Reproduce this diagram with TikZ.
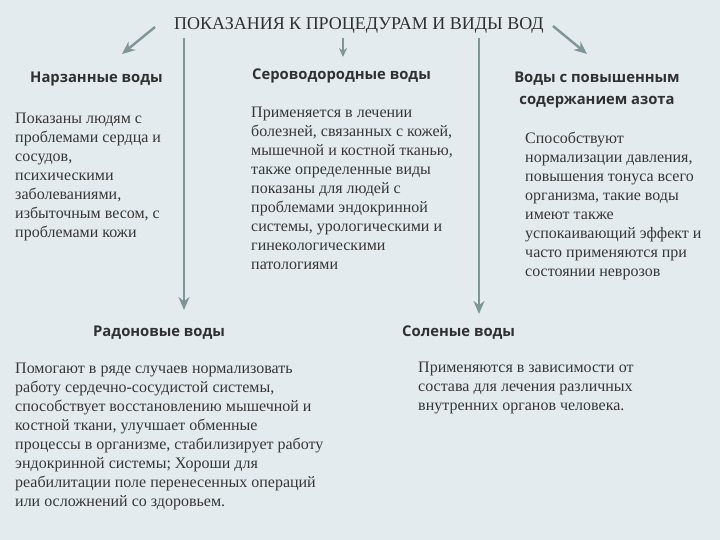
\documentclass[tikz,border=0pt]{standalone}
\usepackage{fontspec}
\setmainfont{Liberation Serif}
\newfontfamily\headfont{Open Sans}
\usetikzlibrary{arrows.meta}
\definecolor{bgcol}{HTML}{E4EBEF}
\definecolor{arrcol}{HTML}{7F9598}
\definecolor{txtcol}{HTML}{363636}
\definecolor{headcol}{HTML}{303030}
\begin{document}
\begin{tikzpicture}[x=1pt, y=-1pt, line join=round, >={Stealth[length=13pt,width=11pt]},
  title/.style={anchor=base, inner sep=0pt, text=headcol, font=\fontsize{18}{20}\selectfont},
  head/.style={anchor=base west, inner sep=0pt, text=headcol, font=\headfont\bfseries\fontsize{14.8}{22}\selectfont},
  body/.style={anchor=north west, inner sep=0pt, align=left, text=txtcol, font=\fontsize{16}{19}\selectfont},
  arr/.style={->, draw=arrcol, line width=2.4pt}]
\fill[bgcol] (0,0) rectangle (720,540);
\useasboundingbox (0,0) rectangle (720,540);
% title
\node[title] (ttl) at (359,30) {ПОКАЗАНИЯ К ПРОЦЕДУРАМ И ВИДЫ ВОД};
% headings
\node[head] (narz) at (30,83) {Нарзанные воды};
\node[head] (serov) at (252,80) {Сероводородные воды};
\node[head, anchor=north, align=center] (azot) at (597,71.5) {Воды с повышенным\\содержанием азота};
\node[head] (radon) at (93,336) {Радоновые воды};
\node[head] (solen) at (402,336) {Соленые воды};
% texts (top = first baseline minus ascender)
\node[body] (narztxt) at (15,113) {Показаны людям с\\проблемами сердца и\\сосудов,\\психическими\\заболеваниями,\\избыточным весом, с\\проблемами кожи};
\node[body] (serovtxt) at (251,107) {Применяется в лечении\\болезней, связанных с кожей,\\мышечной и костной тканью,\\также определенные виды\\показаны для людей с\\проблемами эндокринной\\системы, урологическими и\\гинекологическими\\патологиями};
\node[body] (azottxt) at (525,132) {Способствуют\\нормализации давления,\\повышения тонуса всего\\организма, такие воды\\имеют также\\успокаивающий эффект и\\часто применяются при\\состоянии неврозов};
\node[body] (radontxt) at (15,363) {Помогают в ряде случаев нормализовать\\работу сердечно-сосудистой системы,\\способствует восстановлению мышечной и\\костной ткани, улучшает обменные\\процессы в организме, стабилизирует работу\\эндокринной системы; Хороши для\\реабилитации поле перенесенных операций\\или осложнений со здоровьем.};
\node[body] (solentxt) at (418,362) {Применяются в зависимости от\\состава для лечения различных\\внутренних органов человека.};
% arrow ends
\coordinate (a1) at (155,27); \coordinate (b1) at (122,54);
\coordinate (a2) at (343,38); \coordinate (b2) at (343,57);
\coordinate (a3) at (553,26); \coordinate (b3) at (587,54);
\coordinate (a4) at (184,38); \coordinate (b4) at (184,310);
\coordinate (a5) at (479,38); \coordinate (b5) at (479,314);
\draw[arr] (a1)--(b1);
\draw[arr, line width=1.8pt, >={Stealth[length=9pt,width=8pt]}] (a2)--(b2);
\draw[arr] (a3)--(b3);
\draw[arr] (a4)--(b4);
\draw[arr] (a5)--(b5);
\end{tikzpicture}
\end{document}
